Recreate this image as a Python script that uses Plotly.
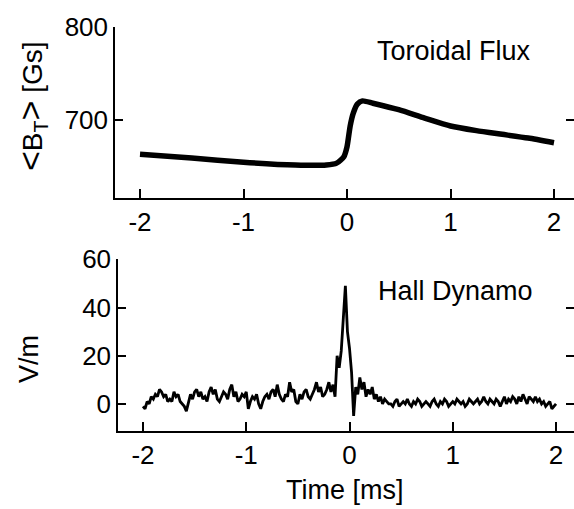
import numpy as np
import plotly.graph_objects as go

# --- Toroidal flux trace: time [ms] and <B_T> [Gs]
flux_t = [-2.0, -1.5, -1.0, -0.5, -0.2, -0.1, -0.03, 0.0, 0.03, 0.06, 0.1,
          0.15, 0.25, 0.5, 0.75, 1.0, 1.25, 1.5, 1.75, 2.0]
flux_b = [663, 659, 654.5, 651.5, 651.5, 653.5, 660.5, 671, 693, 707, 717,
          720.5, 718, 711, 702, 693.5, 688.5, 684.5, 680.5, 675.5]

# --- Hall dynamo term [V/m], sampled every 0.02 ms from -2 to 2 ms
hall_t = np.round(np.arange(-2.0, 2.0001, 0.02), 2)
hall_e = [
    -1, -2, 1, 0, 3, 2, 4, 3, 6, 5,
    3, 4, 1, 2, 1, 5, 3, 4, 1, 0,
    -1, -3, 1, 4, 2, 5, 6, 3, 5, 2,
    3, 1, 5, 7, 4, 6, 2, 1, 3, 5,
    4, 2, 6, 8, 3, 5, 1, 2, 4, 3,
    5, -2, 1, 3, 2, 4, 0, -2, 1, 3,
    4, 2, 5, 6, 3, 8, 4, 2, 1, 4,
    3, 9, 5, 6, 1, 0, 4, 2, 5, 6,
    3, 2, 4, 6, 9, 5, 7, 3, 4, 6,
    9, 5, 8, 3, 20, 15, 22, 38, 49, 30,
    23, 13, -5, 7, 4, 11, 6, 9, 3, 6,
    4, 7, 2, 4, 1, 3, 0, 2, 1, 0,
    0, -1, 1, 2, -1, 0, 1, 0, 2, 0,
    -1, 1, 0, 2, 1, -1, 0, 1, 0, -1,
    1, 2, 0, -1, 1, 0, 2, 1, -1, 0,
    1, 0, 2, 1, 0, 1, -1, 0, 2, 1,
    0, 1, 2, 0, 1, 3, 1, 0, 2, 1,
    0, 2, 1, -1, 1, 3, 0, 2, 1, 3,
    2, 0, 3, 1, 4, 2, 0, 3, 2, 1,
    3, 1, 2, 0, 1, -1, 0, 1, -2, -1,
    0,
]

time_ticks = [-2, -1, 0, 1, 2]
time_labels = ["-2", "-1", "0", "1", "2"]
flux_ticks = [700, 800]
hall_ticks = [0, 20, 40, 60]

FONT = "Liberation Sans, Arial, Helvetica, sans-serif"
W, H = 574, 509

fig = go.Figure()
fig.add_trace(go.Scatter(x=flux_t, y=flux_b, mode="lines",
                         line=dict(color="black", width=5.5, shape="spline", smoothing=0.6),
                         xaxis="x", yaxis="y", showlegend=False))
fig.add_trace(go.Scatter(x=hall_t, y=hall_e, mode="lines", line=dict(color="black", width=2.8),
                         xaxis="x2", yaxis="y2", showlegend=False))

tickfont = dict(family=FONT, size=26, color="black")
common_x = dict(showline=True, linecolor="black", linewidth=1.5, ticks="inside", ticklen=9,
                tickwidth=1.5, tickcolor="black", tickvals=time_ticks, ticktext=time_labels,
                showgrid=False, zeroline=False, tickfont=tickfont, automargin=False)
common_y = dict(showline=True, linecolor="black", linewidth=1.5, ticks="inside", ticklen=8,
                tickwidth=1.5, tickcolor="black", showgrid=False, zeroline=False,
                tickfont=tickfont, automargin=False, mirror="ticks")

top_dom = [1 - 198 / H, 1 - 27 / H]
bot_dom = [1 - 430.7 / H, 1 - 259.3 / H]

fig.update_layout(
    template="none",
    width=W, height=H, margin=dict(l=0, r=0, t=0, b=0, autoexpand=False),
    paper_bgcolor="white", plot_bgcolor="white",
    xaxis=dict(domain=[115 / W, 1], range=[-2.2415, 2.1932], anchor="y", **common_x),
    yaxis=dict(domain=top_dom, range=[616, 800], anchor="x", tickvals=flux_ticks, **common_y),
    xaxis2=dict(domain=[118 / W, 1], range=[-2.242, 2.174], anchor="y2", **common_x),
    yaxis2=dict(domain=bot_dom, range=[-11.1, 60], anchor="x2", tickvals=hall_ticks, **common_y),
)


def label(text, x, y, size=27, angle=0):
    fig.add_annotation(text=text, x=x / W, y=1 - y / H, xref="paper", yref="paper",
                       xanchor="center", yanchor="middle", showarrow=False,
                       textangle=angle, font=dict(family=FONT, size=size, color="black"))


label("Toroidal Flux", 454, 51)
label("Hall Dynamo", 455, 291)
label('<span style="font-size:34px">&lt;</span>B<sub>T</sub>'
      '<span style="font-size:34px">&gt;</span> [Gs]', 31, 106, size=28, angle=-90)
label("V/m", 29, 359, size=27, angle=-90)
label("Time [ms]", 345, 490)

fig.write_html("out.html")
